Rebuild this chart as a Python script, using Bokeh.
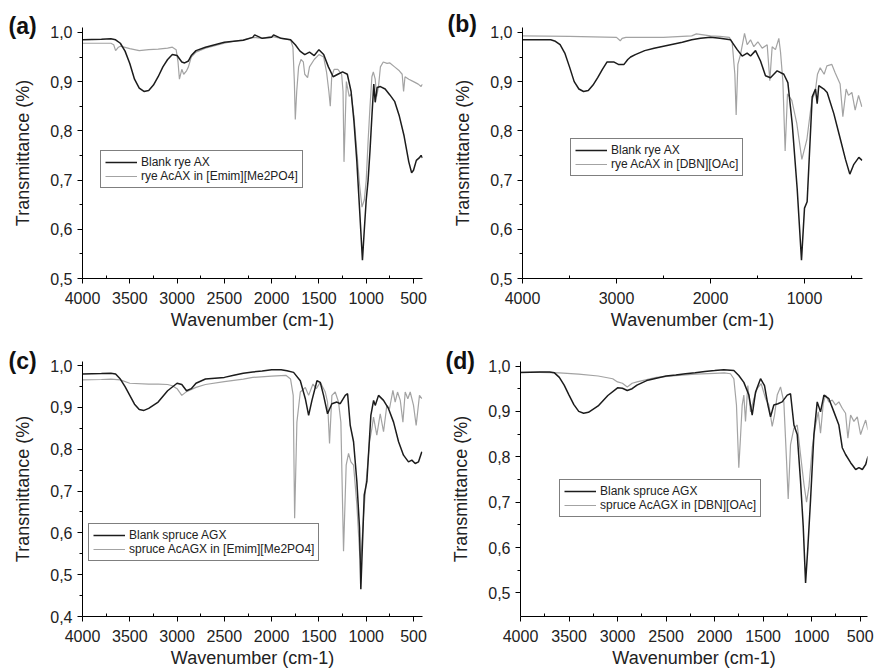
from bokeh.plotting import figure
from bokeh.layouts import column, row
from bokeh.models import (Range1d, FixedTicker, CustomJSTickFormatter, Legend,
                          LegendItem, Title)
from bokeh.embed import file_html
from bokeh.resources import INLINE

# ---------------- data ----------------
# (a) rye AX vs rye AcAX in [Emim][Me2PO4]
a_blank_wn = [4000, 3800, 3700, 3650, 3600, 3550, 3500, 3450, 3400, 3350, 3300, 3250, 3200, 3150,
              3100, 3050, 3000, 2950, 2920, 2880, 2850, 2800, 2700, 2600, 2500, 2400, 2300, 2200,
              2180, 2100, 2000, 1980, 1900, 1800, 1750, 1700, 1650, 1600, 1550, 1500, 1450, 1400,
              1350, 1300, 1250, 1200, 1160, 1130, 1100, 1070, 1040, 1020, 1000, 980, 960, 940, 920,
              905, 885, 850, 800, 750, 700, 650, 600, 550, 520, 500, 470, 440, 420, 405]
a_blank_t = [0.985, 0.986, 0.987, 0.985, 0.978, 0.962, 0.937, 0.905, 0.887, 0.880, 0.882, 0.893,
             0.910, 0.930, 0.945, 0.955, 0.953, 0.940, 0.938, 0.942, 0.953, 0.963, 0.970, 0.975,
             0.980, 0.982, 0.984, 0.990, 0.995, 0.988, 0.990, 0.995, 0.988, 0.985, 0.975, 0.962,
             0.955, 0.960, 0.953, 0.965, 0.955, 0.930, 0.910, 0.915, 0.920, 0.915, 0.880, 0.820,
             0.740, 0.640, 0.537, 0.600, 0.660, 0.700, 0.760, 0.830, 0.895, 0.858, 0.888, 0.890,
             0.885, 0.873, 0.860, 0.830, 0.790, 0.737, 0.715, 0.720, 0.740, 0.745, 0.750, 0.745]
a_acet_wn = [4000, 3800, 3700, 3670, 3650, 3620, 3600, 3500, 3400, 3300, 3200, 3100, 3050, 3010,
             2990, 2975, 2950, 2930, 2900, 2880, 2850, 2800, 2700, 2600, 2500, 2400, 2300, 2200,
             2100, 2000, 1900, 1800, 1775, 1760, 1750, 1735, 1715, 1690, 1665, 1650, 1620, 1600,
             1550, 1500, 1450, 1420, 1395, 1380, 1365, 1340, 1300, 1260, 1245, 1235, 1225, 1210,
             1180, 1160, 1130, 1100, 1070, 1045, 1020, 1000, 980, 960, 940, 925, 905, 890, 870,
             850, 820, 780, 750, 700, 650, 620, 605, 590, 550, 500, 450, 420, 405]
a_acet_t = [0.978, 0.978, 0.978, 0.975, 0.963, 0.970, 0.972, 0.967, 0.963, 0.965, 0.966, 0.968,
            0.970, 0.965, 0.940, 0.905, 0.925, 0.915, 0.922, 0.930, 0.950, 0.960, 0.968, 0.973,
            0.978, 0.982, 0.985, 0.990, 0.988, 0.992, 0.988, 0.985, 0.970, 0.900, 0.823, 0.880,
            0.930, 0.945, 0.940, 0.915, 0.908, 0.930, 0.945, 0.955, 0.950, 0.920, 0.880, 0.850,
            0.910, 0.925, 0.925, 0.915, 0.880, 0.737, 0.800, 0.900, 0.870, 0.875, 0.830, 0.760,
            0.690, 0.645, 0.660, 0.700, 0.780, 0.850, 0.910, 0.920, 0.905, 0.870, 0.890, 0.930,
            0.940, 0.937, 0.938, 0.930, 0.922, 0.915, 0.880, 0.910, 0.905, 0.900, 0.895, 0.890,
            0.895]

# (b) rye AX vs rye AcAX in [DBN][OAc]
b_blank_wn = [4000, 3800, 3700, 3650, 3600, 3550, 3500, 3450, 3400, 3350, 3300, 3250, 3200, 3150,
              3100, 3030, 2980, 2920, 2880, 2850, 2800, 2700, 2600, 2500, 2400, 2300, 2200, 2106,
              2000, 1900, 1787, 1716, 1663, 1610, 1574, 1521, 1468, 1415, 1362, 1291, 1220, 1177,
              1131, 1078, 1032, 1000, 972, 918, 883, 865, 848, 794, 759, 688, 617, 564, 518, 475,
              422, 387]
b_blank_t = [0.985, 0.985, 0.985, 0.982, 0.975, 0.958, 0.930, 0.900, 0.885, 0.880, 0.882, 0.893,
             0.908, 0.925, 0.940, 0.940, 0.935, 0.935, 0.945, 0.950, 0.955, 0.963, 0.968, 0.972,
             0.976, 0.980, 0.985, 0.988, 0.990, 0.988, 0.985, 0.965, 0.952, 0.958, 0.952, 0.963,
             0.942, 0.912, 0.908, 0.922, 0.915, 0.898, 0.815, 0.683, 0.537, 0.643, 0.656, 0.869,
             0.885, 0.855, 0.892, 0.885, 0.878, 0.835, 0.782, 0.742, 0.712, 0.732, 0.746, 0.740]
b_acet_wn = [4000, 3500, 3000, 2960, 2940, 2900, 2500, 2200, 2150, 2000, 1900, 1800, 1770, 1741,
             1727, 1709, 1681, 1638, 1610, 1574, 1539, 1496, 1450, 1397, 1369, 1344, 1309, 1273,
             1255, 1230, 1206, 1181, 1135, 1082, 1028, 975, 922, 887, 862, 833, 791, 762, 709,
             674, 621, 592, 557, 532, 496, 461, 425, 390]
b_acet_t = [0.993, 0.992, 0.990, 0.983, 0.988, 0.990, 0.990, 0.993, 0.997, 0.993, 0.992, 0.990,
            0.981, 0.915, 0.832, 0.935, 0.955, 0.998, 0.975, 0.985, 0.971, 0.981, 0.968, 0.975,
            0.902, 0.971, 0.965, 0.988, 0.960, 0.900, 0.759, 0.875, 0.862, 0.815, 0.742, 0.782,
            0.862, 0.878, 0.915, 0.928, 0.915, 0.932, 0.935, 0.918, 0.895, 0.829, 0.885, 0.872,
            0.878, 0.842, 0.872, 0.849]

# (c) spruce AGX vs spruce AcAGX in [Emim][Me2PO4]
c_blank_wn = [4000, 3800, 3700, 3650, 3600, 3550, 3500, 3450, 3400, 3350, 3300, 3200, 3100, 3000,
              2950, 2900, 2850, 2800, 2700, 2600, 2500, 2400, 2300, 2200, 2100, 2000, 1900, 1838,
              1768, 1697, 1644, 1609, 1574, 1521, 1486, 1451, 1409, 1363, 1310, 1275, 1222, 1197,
              1169, 1134, 1099, 1071, 1057, 1021, 993, 951, 922, 905, 870, 817, 764, 711, 658,
              606, 553, 518, 482, 447, 412]
c_blank_t = [0.980, 0.981, 0.982, 0.980, 0.968, 0.950, 0.929, 0.908, 0.895, 0.893, 0.898, 0.913,
             0.940, 0.958, 0.955, 0.940, 0.945, 0.958, 0.968, 0.970, 0.972, 0.977, 0.982, 0.985,
             0.987, 0.990, 0.990, 0.988, 0.984, 0.964, 0.921, 0.881, 0.917, 0.964, 0.960, 0.929,
             0.885, 0.909, 0.913, 0.909, 0.929, 0.933, 0.857, 0.818, 0.723, 0.612, 0.465, 0.691,
             0.723, 0.881, 0.917, 0.905, 0.929, 0.917, 0.897, 0.865, 0.818, 0.786, 0.770, 0.774,
             0.766, 0.770, 0.794]
c_acet_wn = [4000, 3800, 3700, 3600, 3500, 3300, 3200, 3100, 3050, 3000, 2950, 2900, 2800, 2700,
             2500, 2300, 2200, 2000, 1850, 1800, 1772, 1757, 1733, 1697, 1644, 1609, 1563, 1528,
             1486, 1433, 1409, 1388, 1363, 1328, 1293, 1268, 1240, 1212, 1187, 1162, 1134, 1099,
             1071, 1057, 1028, 1000, 965, 941, 923, 888, 852, 817, 782, 754, 718, 694, 669, 640,
             612, 588, 560, 535, 500, 472, 437, 412]
c_acet_t = [0.966, 0.967, 0.968, 0.966, 0.958, 0.956, 0.956, 0.955, 0.952, 0.945, 0.929, 0.938,
            0.948, 0.955, 0.962, 0.968, 0.972, 0.975, 0.977, 0.968, 0.929, 0.635, 0.865, 0.937,
            0.948, 0.929, 0.956, 0.945, 0.960, 0.937, 0.913, 0.814, 0.929, 0.937, 0.913, 0.865,
            0.556, 0.762, 0.790, 0.770, 0.762, 0.667, 0.556, 0.532, 0.643, 0.723, 0.818, 0.849,
            0.877, 0.834, 0.885, 0.842, 0.905, 0.897, 0.941, 0.913, 0.937, 0.917, 0.865, 0.937,
            0.921, 0.937, 0.905, 0.857, 0.929, 0.921]

# (d) spruce AGX vs spruce AcAGX in [DBN][OAc]
d_blank_wn = [4000, 3800, 3700, 3650, 3600, 3550, 3500, 3450, 3400, 3350, 3300, 3200, 3100, 3000,
              2950, 2900, 2850, 2800, 2700, 2600, 2500, 2400, 2300, 2200, 2100, 2000, 1906, 1802,
              1751, 1699, 1647, 1613, 1578, 1527, 1486, 1451, 1424, 1390, 1348, 1304, 1252, 1218,
              1183, 1149, 1115, 1087, 1063, 1039, 1012, 977, 943, 909, 874, 823, 771, 720, 685,
              651, 599, 547, 513, 478, 444, 420]
d_blank_t = [0.986, 0.987, 0.987, 0.985, 0.975, 0.958, 0.936, 0.915, 0.900, 0.896, 0.898, 0.912,
             0.935, 0.952, 0.951, 0.946, 0.950, 0.958, 0.968, 0.973, 0.978, 0.980, 0.983, 0.985,
             0.988, 0.990, 0.992, 0.990, 0.979, 0.964, 0.936, 0.892, 0.943, 0.972, 0.957, 0.914,
             0.888, 0.914, 0.917, 0.921, 0.936, 0.939, 0.870, 0.849, 0.747, 0.646, 0.522, 0.602,
             0.704, 0.849, 0.921, 0.899, 0.936, 0.928, 0.899, 0.870, 0.820, 0.805, 0.787, 0.772,
             0.776, 0.772, 0.783, 0.801]
d_acet_wn = [4000, 3800, 3600, 3400, 3200, 3050, 3000, 2950, 2900, 2850, 2800, 2600, 2400, 2200,
             2000, 1900, 1837, 1802, 1775, 1751, 1734, 1716, 1699, 1682, 1658, 1630, 1596, 1562,
             1520, 1475, 1441, 1407, 1383, 1355, 1321, 1287, 1259, 1242, 1218, 1183, 1149, 1115,
             1080, 1053, 1029, 994, 960, 932, 909, 881, 857, 823, 788, 754, 720, 685, 651, 627,
             599, 565, 530, 496, 468, 444, 420]
d_acet_t = [0.986, 0.986, 0.985, 0.982, 0.978, 0.972, 0.965, 0.962, 0.954, 0.962, 0.965, 0.975,
            0.979, 0.982, 0.984, 0.985, 0.983, 0.972, 0.914, 0.776, 0.841, 0.914, 0.936, 0.878,
            0.957, 0.899, 0.928, 0.950, 0.961, 0.928, 0.914, 0.867, 0.892, 0.936, 0.954, 0.921,
            0.791, 0.707, 0.827, 0.863, 0.870, 0.805, 0.740, 0.700, 0.733, 0.820, 0.870, 0.899,
            0.852, 0.917, 0.936, 0.921, 0.925, 0.914, 0.921, 0.907, 0.896, 0.841, 0.892, 0.878,
            0.888, 0.849, 0.867, 0.881, 0.859]

panel_tags = ["(a)", "(b)", "(c)", "(d)"]
blank_names = ["Blank rye AX", "Blank rye AX", "Blank spruce AGX", "Blank spruce AGX"]
acet_names = ["rye AcAX in [Emim][Me2PO4]", "rye AcAX in [DBN][OAc]",
              "spruce AcAGX in [Emim][Me2PO4]", "spruce AcAGX in [DBN][OAc]"]
x_title = "Wavenumber (cm-1)"
y_title = "Transmittance (%)"

FONT = "Liberation Sans"
BLACK = "#1c1c1c"
GREY = "#a3a3a3"
TXT = "#222222"


def make_panel(tag, bw, bt, aw, at, bname, aname, width, height, borders,
               xr, yr, xmaj, xmin, ymaj, ymin, legend_loc, tag_offset, tag_standoff):
    left, right, top, bottom = borders
    p = figure(width=width, height=height, output_backend="svg", toolbar_location=None,
               x_range=Range1d(*xr), y_range=Range1d(*yr),
               min_border_left=left, min_border_right=right,
               min_border_top=top, min_border_bottom=bottom)
    p.outline_line_color = None
    p.xgrid.visible = False
    p.ygrid.visible = False
    p.background_fill_color = "white"
    p.border_fill_color = "white"

    ra = p.line(aw, at, line_color=GREY, line_width=1.2)
    rb = p.line(bw, bt, line_color=BLACK, line_width=1.5)

    p.xaxis.ticker = FixedTicker(ticks=xmaj, minor_ticks=xmin)
    p.yaxis.ticker = FixedTicker(ticks=ymaj, minor_ticks=ymin)
    p.yaxis.formatter = CustomJSTickFormatter(code="return tick.toFixed(1).replace('.', ',');")

    for ax in (p.xaxis[0], p.yaxis[0]):
        ax.axis_line_color = "black"
        ax.axis_line_width = 1
        ax.major_tick_line_color = "black"
        ax.minor_tick_line_color = "black"
        ax.major_tick_out = 5
        ax.major_tick_in = 0
        ax.major_label_text_font = FONT
        ax.major_label_text_font_size = "16px"
        ax.major_label_text_color = TXT
        ax.axis_label_text_font = FONT
        ax.axis_label_text_font_size = "18px"
        ax.axis_label_text_font_style = "normal"
        ax.axis_label_text_color = TXT
    p.xaxis.minor_tick_in = 3
    p.xaxis.minor_tick_out = 0
    p.yaxis.minor_tick_in = 0
    p.yaxis.minor_tick_out = 3
    p.xaxis.major_label_standoff = 8
    p.xaxis.axis_label_standoff = 3
    p.yaxis.major_label_standoff = 5
    p.yaxis.axis_label_standoff = 14
    p.xaxis.axis_label = x_title
    p.yaxis.axis_label = y_title

    legend = Legend(items=[LegendItem(label=bname, renderers=[rb]),
                           LegendItem(label=aname, renderers=[ra])],
                    location=legend_loc)
    legend.label_text_font = FONT
    legend.label_text_font_size = "12px"
    legend.label_text_color = TXT
    legend.glyph_width = 32
    legend.glyph_height = 14
    legend.label_height = 14
    legend.label_standoff = 4
    legend.spacing = 0
    legend.padding = 4
    legend.margin = 0
    legend.border_line_color = "black"
    legend.border_line_width = 1
    legend.background_fill_color = "white"
    legend.background_fill_alpha = 1
    p.add_layout(legend)

    # panel tag as a title in the top border, pulled down next to the 1,0 tick
    p.add_layout(Title(text=tag, align="left", offset=tag_offset, standoff=tag_standoff,
                       vertical_align="bottom", text_font=FONT, text_font_style="bold",
                       text_font_size="23px", text_color="#111111"), "above")
    return p


x_major_500 = [4000, 3500, 3000, 2500, 2000, 1500, 1000, 500]
x_minor_500 = [3750, 3250, 2750, 2250, 1750, 1250, 750]
x_major_1000 = [4000, 3000, 2000, 1000]
x_minor_1000 = [3500, 2500, 1500, 500]
y_major_a = [0.5, 0.6, 0.7, 0.8, 0.9, 1.0]
y_minor_a = [0.55, 0.65, 0.75, 0.85, 0.95]
y_major_c = [0.4, 0.5, 0.6, 0.7, 0.8, 0.9, 1.0]
y_minor_c = [0.45, 0.55, 0.65, 0.75, 0.85, 0.95]

pa = make_panel(panel_tags[0], a_blank_wn, a_blank_t, a_acet_wn, a_acet_t,
                blank_names[0], acet_names[0], 437, 338, (82, 15, 27, 56),
                (4000, 405), (0.5, 1.01), x_major_500, x_minor_500, y_major_a, y_minor_a,
                (18, 90), -74, -23)
pb = make_panel(panel_tags[1], b_blank_wn, b_blank_t, b_acet_wn, b_acet_t,
                blank_names[1], acet_names[1], 438, 338, (85, 13, 22, 60),
                (4000, 383), (0.5, 1.01), x_major_1000, x_minor_1000, y_major_a, y_minor_a,
                (48, 102), -75, -19)
pc = make_panel(panel_tags[2], c_blank_wn, c_blank_t, c_acet_wn, c_acet_t,
                blank_names[2], acet_names[2], 437, 334, (82, 15, 23, 55),
                (4000, 405), (0.4, 1.01), x_major_500, x_minor_500, y_major_c, y_minor_c,
                (6, 55), -74, -24)
pd_ = make_panel(panel_tags[3], d_blank_wn, d_blank_t, d_acet_wn, d_acet_t,
                 blank_names[3], acet_names[3], 438, 334, (83, 8, 19, 56),
                 (4000, 425), (0.448, 1.01), x_major_500, x_minor_500, y_major_a, y_minor_a,
                 (39, 99), -75, -24)

layout = column(row(pa, pb), row(pc, pd_))
open("out.html", "w").write(file_html(layout, INLINE))
